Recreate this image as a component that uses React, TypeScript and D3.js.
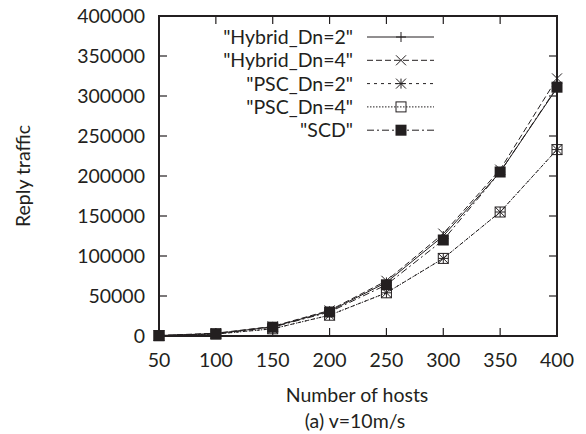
import React, { useEffect, useRef } from 'react';
import * as d3 from 'd3';

const hosts = [50, 100, 150, 200, 250, 300, 350, 400];
const hybridDn2 = [500, 3000, 11500, 31000, 67000, 125000, 205000, 310000];
const hybridDn4 = [600, 3500, 12000, 32000, 69000, 128000, 208000, 322000];
const pscDn2 = [400, 2500, 9000, 26000, 54000, 97000, 155000, 233000];
const pscDn4 = [400, 2400, 9000, 26000, 54000, 97000, 155000, 233000];
const scd = [500, 2800, 11000, 30000, 64000, 120000, 205000, 311000];
const yTicks = [0, 50000, 100000, 150000, 200000, 250000, 300000, 350000, 400000];

const series = [
  { name: '"Hybrid_Dn=2"', values: hybridDn2, dash: null, marker: 'plus' },
  { name: '"Hybrid_Dn=4"', values: hybridDn4, dash: '6,3', marker: 'cross' },
  { name: '"PSC_Dn=2"', values: pscDn2, dash: '3,4', marker: 'star' },
  { name: '"PSC_Dn=4"', values: pscDn4, dash: '1.5,1.5', marker: 'box' },
  { name: '"SCD"', values: scd, dash: '7,3,2,3', marker: 'fbox' },
];

const ink = '#231f20';
const font = 'Lato, sans-serif';
const fs = 19.5;

function drawMarker(g, type, x, y) {
  const s = 5;
  if (type === 'plus') {
    g.append('path').attr('d', `M${x - s},${y}H${x + s}M${x},${y - s}V${y + s}`)
      .attr('stroke', ink).attr('stroke-width', 1);
  } else if (type === 'cross') {
    g.append('path').attr('d', `M${x - s},${y - s}L${x + s},${y + s}M${x - s},${y + s}L${x + s},${y - s}`)
      .attr('stroke', ink).attr('stroke-width', 1);
  } else if (type === 'star') {
    g.append('path')
      .attr('d', `M${x - s},${y}H${x + s}M${x},${y - s}V${y + s}M${x - s},${y - s}L${x + s},${y + s}M${x - s},${y + s}L${x + s},${y - s}`)
      .attr('stroke', ink).attr('stroke-width', 1);
  } else if (type === 'box') {
    g.append('rect').attr('x', x - s).attr('y', y - s).attr('width', 2 * s).attr('height', 2 * s)
      .attr('fill', 'none').attr('stroke', ink).attr('stroke-width', 1);
  } else {
    g.append('rect').attr('x', x - 5.5).attr('y', y - 5.5).attr('width', 11).attr('height', 11)
      .attr('fill', ink);
  }
}

const App = () => {
  const svgRef = useRef();

  useEffect(() => {
    const svg = d3.select(svgRef.current);
    svg.selectAll('*').remove();

    const left = 159, right = 557, top = 16, bottom = 336;
    const x = d3.scaleLinear().domain([50, 400]).range([left, right]);
    const y = d3.scaleLinear().domain([0, 400000]).range([bottom, top]);

    const g = svg.append('g');
    const tickLen = 8;

    // ticks on all four sides, pointing inward
    hosts.forEach((h) => {
      g.append('line').attr('x1', x(h)).attr('x2', x(h)).attr('y1', bottom).attr('y2', bottom - tickLen)
        .attr('stroke', ink).attr('stroke-width', 1.2);
      g.append('line').attr('x1', x(h)).attr('x2', x(h)).attr('y1', top).attr('y2', top + tickLen)
        .attr('stroke', ink).attr('stroke-width', 1.2);
      g.append('text').attr('x', x(h)).attr('y', 367).attr('text-anchor', 'middle')
        .attr('font-family', font).attr('font-size', fs).attr('fill', ink).text(h);
    });
    yTicks.forEach((t) => {
      g.append('line').attr('x1', left).attr('x2', left + tickLen).attr('y1', y(t)).attr('y2', y(t))
        .attr('stroke', ink).attr('stroke-width', 1.2);
      g.append('line').attr('x1', right).attr('x2', right - tickLen).attr('y1', y(t)).attr('y2', y(t))
        .attr('stroke', ink).attr('stroke-width', 1.2);
      g.append('text').attr('x', 145).attr('y', y(t)).attr('dy', '0.36em').attr('text-anchor', 'end')
        .attr('font-family', font).attr('font-size', fs).attr('fill', ink).text(t);
    });

    g.append('rect').attr('x', left).attr('y', top).attr('width', right - left).attr('height', bottom - top)
      .attr('fill', 'none').attr('stroke', ink).attr('stroke-width', 2);

    const line = d3.line().x((d, i) => x(hosts[i])).y((d) => y(d));

    series.forEach((s, k) => {
      g.append('path').datum(s.values).attr('d', line).attr('fill', 'none')
        .attr('stroke', ink).attr('stroke-width', 1)
        .attr('stroke-dasharray', s.dash);
      s.values.forEach((v, i) => drawMarker(g, s.marker, x(hosts[i]), y(v)));

      // legend
      const ly = 37 + k * 23.3;
      g.append('text').attr('x', 353).attr('y', ly).attr('dy', '0.36em').attr('text-anchor', 'end')
        .attr('font-family', font).attr('font-size', fs).attr('fill', ink).text(s.name);
      g.append('line').attr('x1', 367).attr('x2', 434).attr('y1', ly).attr('y2', ly)
        .attr('stroke', ink).attr('stroke-width', 1).attr('stroke-dasharray', s.dash);
      drawMarker(g, s.marker, 401, ly);
    });

    g.append('text').attr('x', 357).attr('y', 402).attr('text-anchor', 'middle')
      .attr('font-family', font).attr('font-size', fs).attr('fill', ink).text('Number of hosts');
    g.append('text').attr('x', 355).attr('y', 428).attr('text-anchor', 'middle')
      .attr('font-family', font).attr('font-size', fs).attr('fill', ink).text('(a) v=10m/s');
    g.append('text').attr('transform', 'translate(23,176) rotate(-90)').attr('dy', '0.36em')
      .attr('text-anchor', 'middle')
      .attr('font-family', font).attr('font-size', fs).attr('fill', ink).text('Reply traffic');
  }, []);

  return (
    <svg ref={svgRef} width={586} height={434}
      style={{ position: 'absolute', left: 0, top: 0, background: '#fff' }} />
  );
};

export default App;
